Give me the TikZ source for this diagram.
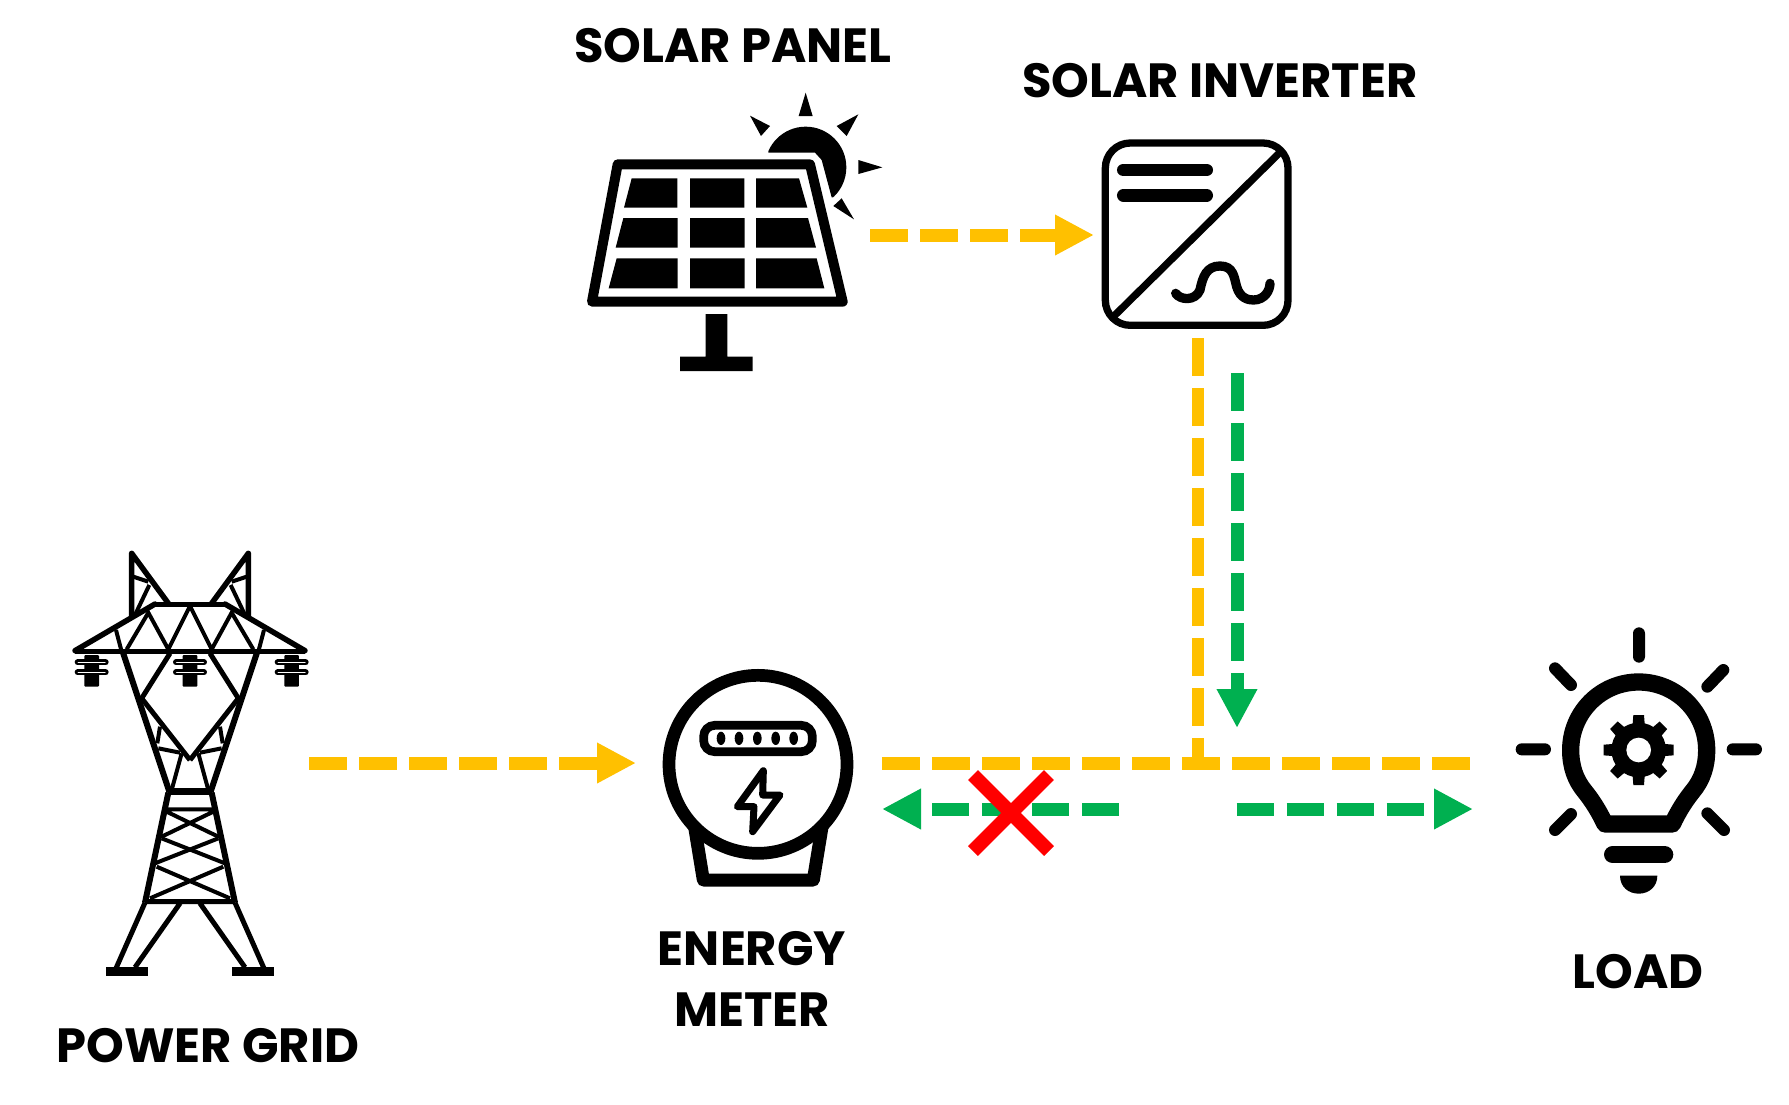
\documentclass[tikz,border=0pt]{standalone}
\usepackage{fontspec}
\setmainfont{Poppins}
\usetikzlibrary{arrows.meta,calc}
\definecolor{flowyellow}{RGB}{255,192,0}
\definecolor{flowgreen}{RGB}{0,176,80}
\definecolor{crossred}{RGB}{255,0,0}
\newcommand{\powertower}{%
\foreach \s in {1,-1}{\begin{scope}[shift={(420,0)},xscale=\s]
\draw[line width=5.5pt,line join=round,line cap=round] (-175,70)--(-175,262) (-175,70)--(-65,220) (-105,222)--(-345,362);
\draw[line width=5pt] (-105,222)--(0,222) (-345,365)--(0,365);
\draw[line width=4pt] (-170,140)--(-125,155) (-122,165)--(-165,255) (-190,358)--(-125,248)--(-65,358)--(0,228) (-222,300)--(-205,365);
\draw[line width=6pt] (-202,365)--(-62,785) (-65,788)--(-135,1118);
\draw[line width=5pt,line join=round] (-60,370)--(-145,505)--(0,690);
\draw[line width=4pt] (-90,590)--(-98,640) (-95,655)--(-30,668) (-25,670)--(-55,780);
\draw[line width=6.5pt] (-65,785)--(0,785);
\draw[line width=4pt] (-70,838)--(0,838) (-70,845)--(85,920) (-85,925)--(105,1000) (-100,1010)--(120,1105);
\draw[line width=5pt] (-135,1115)--(0,1115) (-135,1118)--(-222,1315) (-30,1120)--(-165,1312);
\fill (-253,1312) rectangle (-125,1337);
\end{scope}}
\foreach \x in {125,420,725}{
\fill[rounded corners=1pt] (\x-22,375) rectangle (\x+22,470);
\foreach \y in {397,427}{\draw[line width=6pt,line cap=round] (\x-42,\y)--(\x+42,\y);\draw[white,line width=1.4pt,line cap=round] (\x-40,\y)--(\x+40,\y);}}
}
\newcommand{\solarpanel}{%
\draw[line width=10pt,line join=round] (143,253)--(720,253)--(818,665)--(66,665)--cycle;
\fill (185,295)--(322,295)--(322,383)--(162,383)--cycle (360,295)rectangle(523,383) (558,295)--(687,295)--(712,383)--(558,383)--cycle;
\fill (160,414)--(323,414)--(323,503)--(137,503)--cycle (360,414)rectangle(524,503) (558,414)--(714,414)--(738,503)--(558,503)--cycle;
\fill (140,535)--(323,535)--(323,625)--(116,625)--cycle (360,535)rectangle(524,625) (558,535)--(740,535)--(763,625)--(558,625)--cycle;
\fill (407,702) rectangle (472,830) (330,830) rectangle (548,873);
\begin{scope}\clip (595,218)--(735,218)--(755,240)--(785,352)--(900,352)--(900,100)--(595,100)--cycle;\fill (707,262) circle (122);\end{scope}
\fill (707,38)--(686,108)--(728,108)--cycle (865,103)--(800,138)--(830,168)--cycle (937,262)--(865,240)--(865,282)--cycle (852,418)--(790,378)--(815,355)--cycle (540,107)--(600,138)--(573,168)--cycle;
}
\newcommand{\solarinverter}{%
\draw[line width=7.3pt,rounded corners=25pt] (76,39) rectangle (624,586);
\draw[line width=7.3pt] (95,565)--(605,62);
\draw[line width=12.7pt,line cap=round] (130,120)--(380,120) (130,196)--(380,196);
\draw[line width=9.3pt,line cap=round] (287,490) .. controls (300,510) and (345,515) .. (360,480) .. controls (368,440) and (380,408) .. (420,408) .. controls (460,408) and (462,440) .. (470,470) .. controls (480,505) and (505,510) .. (520,510) .. controls (555,510) and (570,480) .. (570,460);
}
\newcommand{\energymeter}{%
\draw[line width=12.7pt] (354,343) circle (267);
\draw[line width=13pt,line join=round] (163,525)--(190,690)--(520,690)--(547,525);
\draw[line width=8.7pt,rounded corners=11pt] (191,226) rectangle (517,305);
\foreach \x in {243,297,352,407,461}{\fill (\x,265) ellipse (13 and 20);}
\draw[line width=7pt,line join=round] (370,362)--(292,470)--(342,470)--(338,545)--(420,435)--(368,435)--cycle;
}
\newcommand{\loadbulb}{%
\draw[line width=12pt,line cap=round] (417,70)--(417,140) (165,175)--(213,225) (670,180)--(622,230) (65,418)--(135,418) (698,418)--(768,418) (165,660)--(213,612) (672,660)--(622,610);
\draw[line width=17.3pt,line join=round] (315,642) .. controls (295,600) and (275,570) .. (255,545) .. controls (226,510) and (212,470) .. (212,420) .. controls (212,307) and (303,216) .. (416,216) .. controls (529,216) and (620,307) .. (620,420) .. controls (620,470) and (606,510) .. (577,545) .. controls (557,570) and (537,600) .. (517,642)--cycle;
\foreach \a in {0,45,...,315}{\fill[rotate around={\a:(416,420)}] (392,420)--(400,315)--(432,315)--(440,420)--cycle;}
\fill (416,420) circle (82);
\fill[white] (416,420) circle (37);
\draw[line width=17.3pt,line cap=round] (338,734)--(494,734);
\fill (360,797) .. controls (360,830) and (385,851) .. (416,851) .. controls (447,851) and (472,830) .. (472,797)--cycle;
}
\begin{document}
\begin{tikzpicture}[x=1pt,y=-1pt,>={Triangle[length=39pt,width=38pt]},
  caption/.style={font=\fontsize{48}{60}\selectfont\bfseries,inner sep=0pt,align=center},
  flowy/.style={flowyellow,line width=13pt,dash pattern=on 37.5pt off 12.5pt},
  flowg/.style={flowgreen,line width=13pt,dash pattern=on 37.5pt off 12.5pt},
  icon/.style={x=.33333pt,y=-.33333pt}]
\useasboundingbox (0,0) rectangle (1789,1104);
\begin{scope}[shift={(50,530)},icon]\powertower\end{scope}
\begin{scope}[shift={(570,80)},icon]\solarpanel\end{scope}
\begin{scope}[shift={(1080,130)},icon]\solarinverter\end{scope}
\begin{scope}[shift={(640,650)},icon]\energymeter\end{scope}
\begin{scope}[shift={(1500,610)},icon]\loadbulb\end{scope}
\node[caption] (solarlabel) at (733,46) {SOLAR PANEL};
\node[caption] (inverterlabel) at (1220,81) {SOLAR INVERTER};
\node[caption] (gridlabel) at (208,1046) {POWER GRID};
\node[caption] (meterlabel1) at (752,949) {ENERGY};
\node[caption] (meterlabel2) at (752,1010) {METER};
\node[caption] (loadlabel) at (1638,972) {LOAD};
\coordinate (gridout) at (309,763);
\coordinate (meterin) at (636,763);
\coordinate (panelout) at (870,235);
\coordinate (inverterin) at (1094,235);
\coordinate (inverteryellow) at (1197.5,338);
\coordinate (junction) at (1197.5,769);
\coordinate (meteryellow) at (882,763);
\coordinate (loadyellow) at (1470,763);
\coordinate (invertergreen) at (1237,373);
\coordinate (tiegreen) at (1237,728);
\coordinate (greenleft) at (1119,809);
\coordinate (metergreen) at (882,809);
\coordinate (greenright) at (1236.5,809);
\coordinate (loadgreen) at (1473,809);
\coordinate (crossa) at (973,775);
\coordinate (crossb) at (1049,851);
\coordinate (crossc) at (1049,775);
\coordinate (crossd) at (973,851);
\draw[flowy,->] (gridout)--(meterin);
\draw[flowy,->] (panelout)--(inverterin);
\draw[flowy] (meteryellow)--(loadyellow);
\draw[flowyellow,line width=12pt,dash pattern=on 37.5pt off 12.5pt] (inverteryellow)--(junction);
\draw[flowg,->] (invertergreen)--(tiegreen);
\draw[flowg,->] (greenleft)--(metergreen);
\draw[flowg,->] (greenright)--(loadgreen);
\draw[crossred,line width=14pt] (crossa)--(crossb) (crossc)--(crossd);
\end{tikzpicture}
\end{document}
